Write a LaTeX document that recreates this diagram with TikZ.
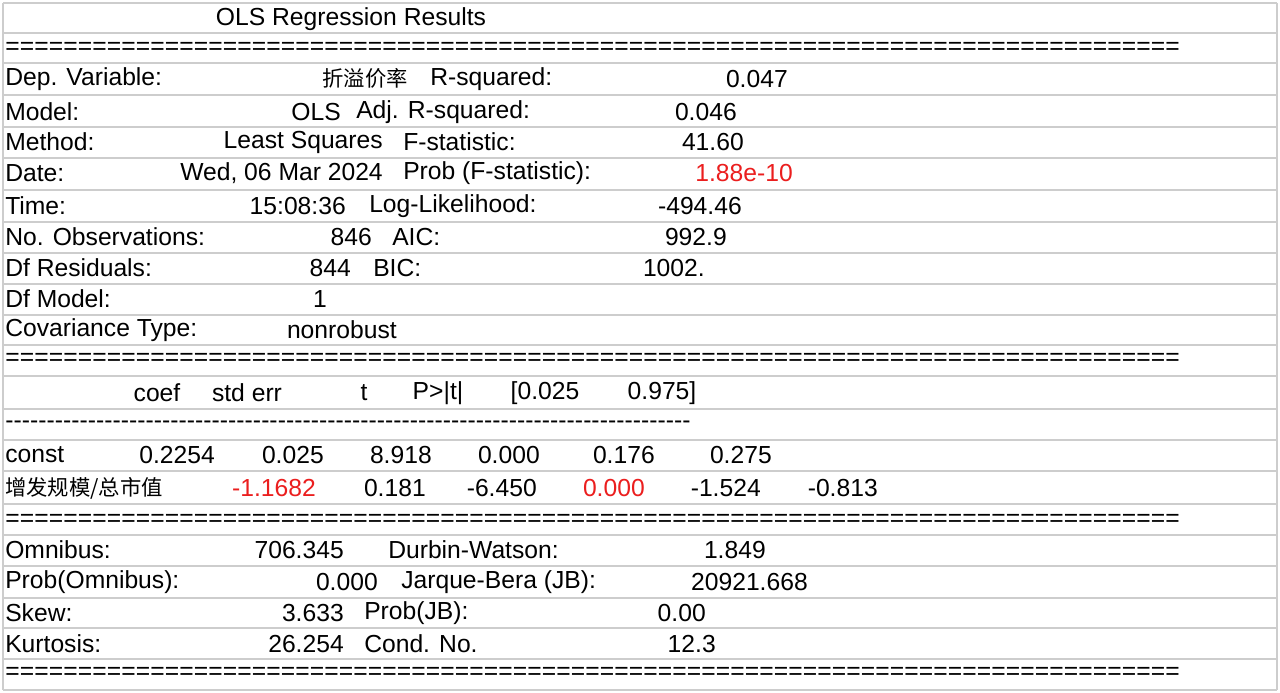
\documentclass[tikz,border=0pt]{standalone}
\usepackage{fontspec}
\setmainfont{Liberation Sans}
\newfontfamily\cjk{Noto Sans CJK SC}
\usepackage{xcolor}
\definecolor{gridgray}{RGB}{205,205,205}
\definecolor{hlred}{RGB}{235,30,30}
\tikzset{
  lft/.style={anchor=west,inner sep=0pt},
  rgt/.style={anchor=east,inner sep=0pt},
  mid/.style={anchor=center,inner sep=0pt},
  hot/.style={text=hlred},
  rule/.style={draw=gridgray,line width=1.5pt}
}
\newcommand{\eqline}{\hbox to 881pt{\xleaders\hbox{=}\hfill}}
\newcommand{\dashline}{\hbox to 514pt{\xleaders\hbox{-}\hfill}}
\begin{document}
\begin{tikzpicture}[x=0.75pt,y=0.75pt,yscale=-1,xscale=1,font=\fontsize{18.5}{22}\selectfont]
        \useasboundingbox (0,0) rectangle (1280,692);
        \fill[white] (0,0) rectangle (1280,692);
        % row rules
        \foreach \y in {3,33,63,95,127,158,190,222,253,284,315,345,376,409,440,471,504,535,566,598,628,659,690}
          \draw[rule] (3,\y) -- (1277,\y);
        \draw[rule] (3,3) -- (3,690);
        \draw[rule] (1277,3) -- (1277,690);

        \node[mid] (title) at (351,19) {OLS Regression Results};
        \node[lft] (eq1) at (5,48) {\eqline};
        % model summary
        \node[lft] (dep) at (5,79) {Dep. Variable:};
        \node[rgt] (depv) at (408,78) {\cjk\fontsize{16}{20}\selectfont 折溢价率};
        \node[lft] (rsq) at (430,79) {R-squared:};
        \node[rgt] (rsqv) at (788,79) {0.047};
        \node[lft] (mod) at (5,112) {Model:};
        \node[rgt] (modv) at (341,112) {OLS};
        \node[lft] (arsq) at (356,112) {Adj. R-squared:};
        \node[rgt] (arsqv) at (737,112) {0.046};
        \node[lft] (meth) at (5,142) {Method:};
        \node[rgt] (methv) at (383,142) {Least Squares};
        \node[lft] (fst) at (403,142) {F-statistic:};
        \node[rgt] (fstv) at (744,142) {41.60};
        \node[lft] (date) at (5,173) {Date:};
        \node[rgt] (datev) at (383,173) {Wed, 06 Mar 2024};
        \node[lft] (pf) at (403,173) {Prob (F-statistic):};
        \node[rgt,hot] (pfv) at (793,173) {1.88e-10};
        \node[lft] (time) at (5,206) {Time:};
        \node[rgt] (timev) at (346,206) {15:08:36};
        \node[lft] (ll) at (369,206) {Log-Likelihood:};
        \node[rgt] (llv) at (742,206) {-494.46};
        \node[lft] (nobs) at (5,237) {No. Observations:};
        \node[rgt] (nobsv) at (372,237) {846};
        \node[lft] (aic) at (392,237) {AIC:};
        \node[rgt] (aicv) at (727,237) {992.9};
        \node[lft] (dfr) at (5,268) {Df Residuals:};
        \node[rgt] (dfrv) at (351,268) {844};
        \node[lft] (bic) at (373,268) {BIC:};
        \node[rgt] (bicv) at (705,268) {1002.};
        \node[lft] (dfm) at (5,299) {Df Model:};
        \node[rgt] (dfmv) at (327,299) {1};
        \node[lft] (cov) at (5,330) {Covariance Type:};
        \node[rgt] (covv) at (397,330) {nonrobust};
        \node[lft] (eq2) at (5,359) {\eqline};
        % coefficients
        \node[mid] (hcoef) at (157,393) {coef};
        \node[mid] (hse) at (247,393) {std err};
        \node[mid] (ht) at (364,393) {t};
        \node[mid] (hp) at (438,393) {P>|t|};
        \node[mid] (hlo) at (545,393) {[0.025};
        \node[mid] (hhi) at (662,393) {0.975]};
        \node[lft] (dash) at (5,425) {\dashline};
        \node[lft] (cst) at (5,455) {const};
        \node[rgt] (cst1) at (215,455) {0.2254};
        \node[rgt] (cst2) at (324,455) {0.025};
        \node[rgt] (cst3) at (432,455) {8.918};
        \node[rgt] (cst4) at (540,455) {0.000};
        \node[rgt] (cst5) at (655,455) {0.176};
        \node[rgt] (cst6) at (772,455) {0.275};
        \node[lft] (zf) at (5,488) {\cjk\fontsize{16}{20}\selectfont 增发规模/总市值};
        \node[rgt,hot] (zf1) at (316,488) {-1.1682};
        \node[rgt] (zf2) at (426,488) {0.181};
        \node[rgt] (zf3) at (537,488) {-6.450};
        \node[rgt,hot] (zf4) at (645,488) {0.000};
        \node[rgt] (zf5) at (761,488) {-1.524};
        \node[rgt] (zf6) at (878,488) {-0.813};
        \node[lft] (eq3) at (5,520) {\eqline};
        % diagnostics
        \node[lft] (omn) at (5,550) {Omnibus:};
        \node[rgt] (omnv) at (344,550) {706.345};
        \node[lft] (dw) at (388,550) {Durbin-Watson:};
        \node[rgt] (dwv) at (766,550) {1.849};
        \node[lft] (pomn) at (5,582) {Prob(Omnibus):};
        \node[rgt] (pomnv) at (378,582) {0.000};
        \node[lft] (jb) at (401,582) {Jarque-Bera (JB):};
        \node[rgt] (jbv) at (808,582) {20921.668};
        \node[lft] (skew) at (5,613) {Skew:};
        \node[rgt] (skewv) at (344,613) {3.633};
        \node[lft] (pjb) at (364,613) {Prob(JB):};
        \node[rgt] (pjbv) at (706,613) {0.00};
        \node[lft] (kurt) at (5,644) {Kurtosis:};
        \node[rgt] (kurtv) at (344,644) {26.254};
        \node[lft] (cond) at (364,644) {Cond. No.};
        \node[rgt] (condv) at (716,644) {12.3};
        \node[lft] (eq4) at (5,673) {\eqline};
\end{tikzpicture}
\end{document}
